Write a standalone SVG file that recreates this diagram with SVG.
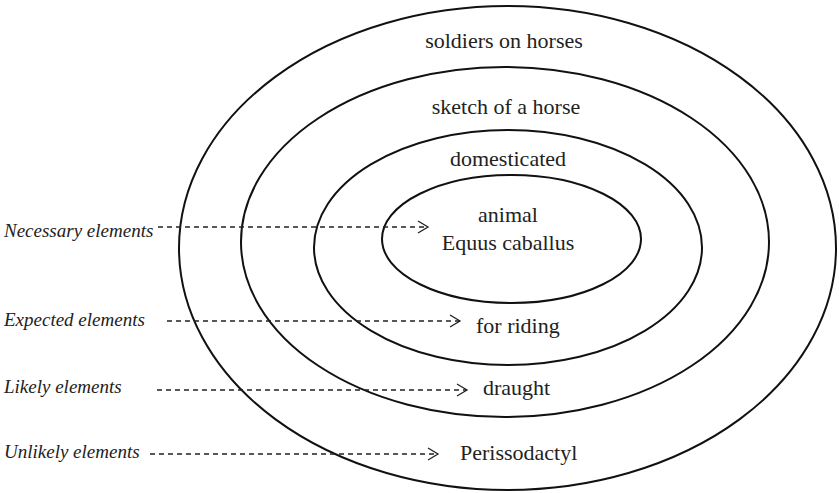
<svg xmlns="http://www.w3.org/2000/svg" width="839" height="493" viewBox="0 0 839 493">
  <style>
    .ring { fill: none; stroke: #111; stroke-width: 2; }
    .lbl { font-family: "Liberation Serif", "DejaVu Serif", serif; font-size: 22px; fill: #222; }
    .side { font-family: "Liberation Serif", "DejaVu Serif", serif; font-size: 19px; font-style: italic; fill: #222; }
    .dash { fill: none; stroke: #222; stroke-width: 1.3; stroke-dasharray: 5 4; }
  </style>
  <defs>
    <marker id="chev" markerWidth="14" markerHeight="14" refX="12" refY="7" orient="auto" markerUnits="userSpaceOnUse">
      <path d="M2,1 L12,7 L2,13" fill="none" stroke="#222" stroke-width="1.3"/>
    </marker>
  </defs>
  <rect width="839" height="493" fill="#fff"/>

  <!-- concentric rings, outermost first -->
  <g id="ring-unlikely">
    <ellipse class="ring" cx="507.5" cy="248" rx="328.5" ry="242"/>
    <text class="lbl" x="504" y="48" text-anchor="middle">soldiers on horses</text>
  </g>
  <g id="ring-likely">
    <ellipse class="ring" cx="505" cy="242" rx="264" ry="175"/>
    <text class="lbl" x="506" y="114" text-anchor="middle">sketch of a horse</text>
  </g>
  <g id="ring-expected">
    <ellipse class="ring" cx="508" cy="247.5" rx="194" ry="117.5"/>
    <text class="lbl" x="508" y="166" text-anchor="middle">domesticated</text>
  </g>
  <g id="ring-necessary">
    <ellipse class="ring" cx="511.5" cy="239" rx="129.5" ry="64"/>
    <text class="lbl" x="508" y="222" text-anchor="middle">animal</text>
    <text class="lbl" x="508" y="250" text-anchor="middle">Equus caballus</text>
  </g>

  <!-- items placed in rings -->
  <g id="item-riding"><text class="lbl" x="476" y="333">for riding</text></g>
  <g id="item-draught"><text class="lbl" x="483" y="395">draught</text></g>
  <g id="item-perisso"><text class="lbl" x="460" y="460">Perissodactyl</text></g>

  <!-- category labels -->
  <g id="cat-necessary"><text class="side" x="4" y="237">Necessary elements</text></g>
  <g id="cat-expected"><text class="side" x="4" y="326">Expected elements</text></g>
  <g id="cat-likely"><text class="side" x="4" y="393">Likely elements</text></g>
  <g id="cat-unlikely"><text class="side" x="4" y="458">Unlikely elements</text></g>

  <!-- dashed pointers -->
  <g id="connectors">
    <line class="dash" x1="158" y1="227" x2="428" y2="227" marker-end="url(#chev)"/>
    <line class="dash" x1="167" y1="321" x2="460" y2="321" marker-end="url(#chev)"/>
    <line class="dash" x1="157" y1="390" x2="467" y2="390" marker-end="url(#chev)"/>
    <line class="dash" x1="150" y1="454" x2="438" y2="454" marker-end="url(#chev)"/>
  </g>
</svg>
